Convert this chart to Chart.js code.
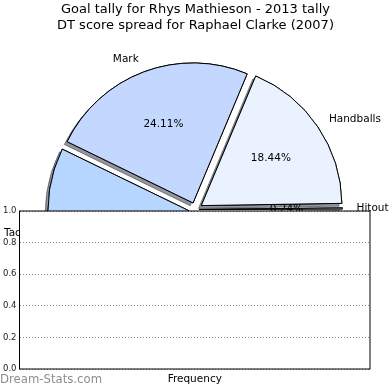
<!DOCTYPE html>
<html>
<head>
<meta charset="utf-8">
<script src="https://cdn.jsdelivr.net/npm/chart.js@4.4.1/dist/chart.umd.min.js"></script>
<style>
    html, body { margin: 0; padding: 0; background: #fff; }
    #wrap { position: relative; width: 390px; height: 390px; }
    #wrap canvas { position: absolute; left: 0; top: 0; }
</style>
</head>
<body>
<div id="wrap">
    <canvas id="pieChart" width="390" height="390"></canvas>
    <canvas id="freqChart" width="390" height="390"></canvas>
</div>
<script>
const titleLines = ['Goal tally for Rhys Mathieson - 2013 tally', 'DT score spread for Raphael Clarke (2007)'];

// slices listed counter-clockwise, starting at 3 o'clock
const categories = ['Hitout', 'Handballs', 'Mark', 'Tackle', 'Kick'];
const shares = [0.24, 18.44, 24.11, 19.20, 38.01];
const sliceColors = ['#f4f7ff', '#eaf1ff', '#c4d8ff', '#b6d6ff', '#a9c9f7'];
const sliceOffsets = [14, 28, 28, 28, 28];

const yTicks = [0.0, 0.2, 0.4, 0.6, 0.8, 1.0];
const xTitle = 'Frequency';
const watermark = 'Dream-Stats.com';

const explodePx = 7;
const FONT = '"DejaVu Sans"';

Chart.defaults.font.family = FONT;
Chart.defaults.color = '#000';

// chart.js goes clockwise, so feed the slices in reverse
const rev = arr => arr.slice().reverse();

const pieShadow = {
    id: 'pieShadow',
    beforeDatasetsDraw(chart) {
        const ctx = chart.ctx;
        ctx.save();
        ctx.shadowColor = 'rgba(40, 45, 60, 0.5)';
        ctx.shadowBlur = 0;
        ctx.shadowOffsetX = -2.8;
        ctx.shadowOffsetY = 2.8;
        chart.getDatasetMeta(0).controller.draw();
        ctx.restore();
    }
};

const pieLabels = {
    id: 'pieLabels',
    afterDatasetsDraw(chart) {
        const ctx = chart.ctx;
        const meta = chart.getDatasetMeta(0);
        const labels = chart.data.labels;
        const data = chart.data.datasets[0].data;
        const total = data.reduce((a, b) => a + b, 0);

        ctx.save();
        ctx.font = '10.5px ' + FONT;
        ctx.fillStyle = '#000';
        ctx.textBaseline = 'middle';
        meta.data.forEach((arc, i) => {
            const mid = (arc.startAngle + arc.endAngle) / 2;
            const r = arc.outerRadius;
            const dx = Math.cos(mid), dy = Math.sin(mid);

            const lr = explodePx + r * 1.1;
            ctx.textAlign = dx > 0 ? 'left' : 'right';
            ctx.fillText(labels[i], arc.x + dx * lr, arc.y + dy * lr);

            const pr = explodePx + r * 0.6;
            ctx.textAlign = 'center';
            ctx.fillText((data[i] / total * 100).toFixed(2) + '%', arc.x + dx * pr, arc.y + dy * pr);
        });
        ctx.restore();
    }
};

new Chart(document.getElementById('pieChart'), {
    type: 'pie',
    data: {
        labels: rev(categories),
        datasets: [{
            data: rev(shares),
            backgroundColor: rev(sliceColors),
            borderColor: '#000',
            borderWidth: 1,
            offset: rev(sliceOffsets),
            clip: false
        }]
    },
    options: {
        responsive: false,
        animation: false,
        rotation: 90,
        radius: 140,
        layout: { padding: { left: 1, right: 0, top: 0, bottom: 5 } },
        plugins: {
            legend: { display: false },
            tooltip: { enabled: false },
            title: {
                display: true,
                text: titleLines,
                color: '#000',
                font: { family: FONT, size: 13, weight: 'normal', lineHeight: 16 / 13 },
                padding: { top: 2, bottom: 0 }
            }
        }
    },
    plugins: [pieShadow, pieLabels]
});

const plotFrame = {
    id: 'plotFrame',
    beforeDraw(chart) {
        const { ctx, chartArea: a } = chart;
        ctx.save();
        ctx.fillStyle = '#fff';
        ctx.fillRect(a.left, a.top, a.right - a.left, a.bottom - a.top);
        ctx.restore();
    },
    afterDraw(chart) {
        const { ctx, chartArea: a } = chart;
        ctx.save();
        ctx.strokeStyle = '#000';
        ctx.lineWidth = 1;
        ctx.strokeRect(a.left, a.top, a.right - a.left, a.bottom - a.top);

        ctx.font = '11.7px ' + FONT;
        ctx.fillStyle = '#8e8e8e';
        ctx.textAlign = 'left';
        ctx.textBaseline = 'middle';
        ctx.fillText(watermark, 0, 380);
        ctx.restore();
    }
};

new Chart(document.getElementById('freqChart'), {
    type: 'scatter',
    data: { datasets: [{ data: [] }] },
    options: {
        responsive: false,
        animation: false,
        layout: { padding: { left: 0, right: 20, top: 211, bottom: 0 } },
        plugins: {
            legend: { display: false },
            tooltip: { enabled: false }
        },
        scales: {
            x: {
                type: 'linear',
                min: 0,
                max: 1,
                ticks: { display: false },
                grid: { display: false, drawTicks: false },
                border: { display: false },
                title: {
                    display: true,
                    text: xTitle,
                    color: '#000',
                    font: { family: FONT, size: 10.5 },
                    padding: { top: 4, bottom: 4 }
                },
                afterFit(scale) { scale.height = 21; }
            },
            y: {
                type: 'linear',
                min: 0,
                max: 1,
                afterBuildTicks(scale) { scale.ticks = yTicks.map(v => ({ value: v })); },
                ticks: {
                    callback: v => v.toFixed(1),
                    padding: 3,
                    color: '#222',
                    font: { family: FONT, size: 8.5 }
                },
                grid: { color: '#8a8a8a', lineWidth: 1, drawTicks: false },
                border: { display: false, dash: [1, 2] },
                afterFit(scale) { scale.width = 19.5; }
            }
        }
    },
    plugins: [plotFrame]
});
</script>
</body>
</html>
